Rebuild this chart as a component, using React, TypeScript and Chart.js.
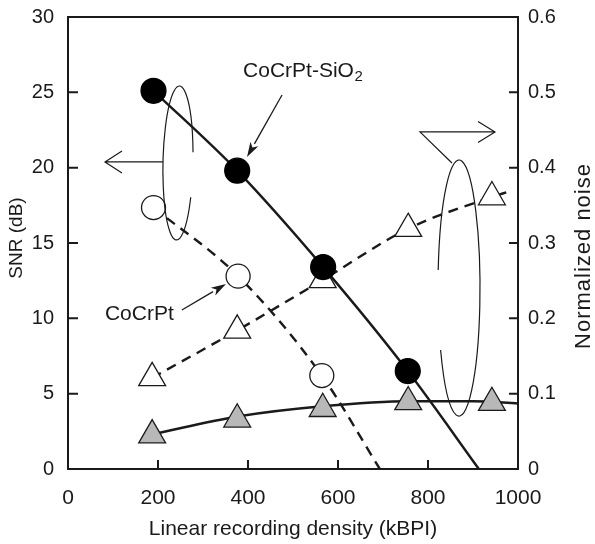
import React, { useEffect, useRef } from "react";
import { Chart, registerables } from "chart.js";
Chart.register(...registerables);

// ---- Data ----
const xTickValues = [0, 200, 400, 600, 800, 1000];
const snrTickValues = [0, 5, 10, 15, 20, 25, 30];
const noiseTickValues = [0, 0.1, 0.2, 0.3, 0.4, 0.5, 0.6];

// CoCrPt-SiO2 SNR (filled circles)
const sio2Density = [190, 376, 567, 755];
const sio2Snr = [25.1, 19.8, 13.4, 6.5];
const sio2SnrFitDensity = [190, 376, 567, 755, 913];
const sio2SnrFit = [25.1, 19.8, 13.4, 6.5, 0];

// CoCrPt SNR (open circles)
const cocrptDensity = [190, 378, 564];
const cocrptSnr = [17.35, 12.8, 6.2];
const cocrptSnrFitDensity = [190, 378, 564, 693];
const cocrptSnrFit = [17.35, 12.8, 6.2, 0];

// Normalized noise (triangles)
const noiseDensity = [187, 376, 566, 756, 942];
const cocrptNoise = [0.121, 0.184, 0.251, 0.319, 0.361];
const cocrptNoiseFitDensity = [187, 376, 566, 756, 942, 978];
const cocrptNoiseFit = [0.121, 0.184, 0.251, 0.319, 0.361, 0.368];
const sio2Noise = [0.045, 0.066, 0.08, 0.089, 0.088];
const sio2NoiseFitDensity = [187, 380, 560, 760, 900, 1000];
const sio2NoiseFit = [0.046, 0.07, 0.083, 0.09, 0.09, 0.087];

// ---- Annotations (data coordinates, x / left-axis y) ----
const sio2LabelPos = { x: 389, y: 26.0 };
const sio2Arrow = { x1: 475.6, y1: 24.82, x2: 397.8, y2: 20.71 };
const cocrptLabelPos = { x: 82, y: 9.89 };
const cocrptArrow = { x1: 253, y1: 10.55, x2: 351, y2: 12.28 };
const leftEllipse = { x: 244.4, y: 20.31, rx: 33.3, ry: 5.11 };
const leftPointer = { x1: 211.1, x2: 82.2, y: 20.38 };
const rightEllipse = { x: 868.9, y: 12.01, rx: 46.7, ry: 8.5 };
const rightPointer = { x0: 853.3, y0: 20.31, x1: 782.2, x2: 948.9, y: 22.37 };

const FONT = "'Liberation Sans', Arial, Helvetica, sans-serif";
const INK = "#1a1a1a";

const pts = (xs: number[], ys: number[]) => xs.map((x, i) => ({ x, y: ys[i] }));

const decorPlugin = {
  id: "decor",
  afterDraw(chart: any) {
    const ctx = chart.ctx as CanvasRenderingContext2D;
    const { left, right, top, bottom } = chart.chartArea;
    const sx = chart.scales.x;
    const sy = chart.scales.y;
    const sy1 = chart.scales.y1;
    const P = (x: number, y: number) => [sx.getPixelForValue(x), sy.getPixelForValue(y)];
    ctx.save();
    ctx.strokeStyle = INK;
    ctx.fillStyle = INK;

    // frame
    ctx.lineWidth = 2;
    ctx.strokeRect(left, top, right - left, bottom - top);

    // inward ticks
    ctx.beginPath();
    xTickValues.slice(1, -1).forEach((v) => {
      const p = sx.getPixelForValue(v);
      ctx.moveTo(p, bottom);
      ctx.lineTo(p, bottom - 9);
    });
    snrTickValues.slice(1, -1).forEach((v) => {
      const p = sy.getPixelForValue(v);
      ctx.moveTo(left, p);
      ctx.lineTo(left + 10, p);
    });
    noiseTickValues.slice(1, -1).forEach((v) => {
      const p = sy1.getPixelForValue(v);
      ctx.moveTo(right, p);
      ctx.lineTo(right - 9, p);
    });
    ctx.stroke();

    // labels
    ctx.font = `21px ${FONT}`;
    ctx.textBaseline = "alphabetic";
    ctx.textAlign = "left";
    let [lx, ly] = P(sio2LabelPos.x, sio2LabelPos.y);
    ctx.fillText("CoCrPt-SiO", lx, ly);
    const w = ctx.measureText("CoCrPt-SiO").width;
    ctx.font = `15px ${FONT}`;
    ctx.fillText("2", lx + w + 0.5, ly + 4);
    ctx.font = `21px ${FONT}`;
    [lx, ly] = P(cocrptLabelPos.x, cocrptLabelPos.y);
    ctx.fillText("CoCrPt", lx, ly);

    // filled-head arrows
    const arrow = (a: { x1: number; y1: number; x2: number; y2: number }) => {
      const [x1, y1] = P(a.x1, a.y1);
      const [x2, y2] = P(a.x2, a.y2);
      const ang = Math.atan2(y2 - y1, x2 - x1);
      const len = 15, hw = 4.5;
      const bx = x2 - Math.cos(ang) * len;
      const by = y2 - Math.sin(ang) * len;
      ctx.lineWidth = 1.3;
      ctx.beginPath();
      ctx.moveTo(x1, y1);
      ctx.lineTo(bx, by);
      ctx.stroke();
      ctx.beginPath();
      ctx.moveTo(x2, y2);
      ctx.lineTo(bx + Math.sin(ang) * hw, by - Math.cos(ang) * hw);
      ctx.lineTo(x2 - Math.cos(ang) * (len - 4), y2 - Math.sin(ang) * (len - 4));
      ctx.lineTo(bx - Math.sin(ang) * hw, by + Math.cos(ang) * hw);
      ctx.closePath();
      ctx.fill();
    };
    arrow(sio2Arrow);
    arrow(cocrptArrow);

    ctx.lineWidth = 1.2;
    // left ellipse with gap on right side
    {
      const [cx, cy] = P(leftEllipse.x, leftEllipse.y);
      const rx = sx.getPixelForValue(leftEllipse.x + leftEllipse.rx) - cx;
      const ry = cy - sy.getPixelForValue(leftEllipse.y + leftEllipse.ry);
      ctx.beginPath();
      ctx.ellipse(cx, cy, rx, ry, 0.02, 0.457, Math.PI * 2 - 0.143);
      ctx.stroke();
      const [ax1, ay] = P(leftPointer.x1, leftPointer.y);
      const [ax2] = P(leftPointer.x2, leftPointer.y);
      ctx.beginPath();
      ctx.moveTo(ax1, ay);
      ctx.lineTo(ax2, ay);
      ctx.moveTo(ax2 + 17, ay - 11);
      ctx.lineTo(ax2, ay);
      ctx.lineTo(ax2 + 17, ay + 11);
      ctx.stroke();
    }
    // right ellipse with gap on left side
    {
      const [cx, cy] = P(rightEllipse.x, rightEllipse.y);
      const rx = sx.getPixelForValue(rightEllipse.x + rightEllipse.rx) - cx;
      const ry = cy - sy.getPixelForValue(rightEllipse.y + rightEllipse.ry);
      ctx.beginPath();
      ctx.ellipse(cx, cy, rx, ry, 0, Math.PI + 0.141, Math.PI * 3 - 0.505);
      ctx.stroke();
      const [p0x, p0y] = P(rightPointer.x0, rightPointer.y0);
      const [p1x, py] = P(rightPointer.x1, rightPointer.y);
      const [p2x] = P(rightPointer.x2, rightPointer.y);
      ctx.beginPath();
      ctx.moveTo(p0x, p0y);
      ctx.lineTo(p1x, py);
      ctx.lineTo(p2x, py);
      ctx.moveTo(p2x - 17, py - 10.5);
      ctx.lineTo(p2x, py);
      ctx.lineTo(p2x - 17, py + 10.5);
      ctx.stroke();
    }

    // axis titles that read bottom-to-top
    ctx.save();
    ctx.font = `19px ${FONT}`;
    ctx.textAlign = "center";
    ctx.textBaseline = "middle";
    ctx.translate(17, (top + bottom) / 2 - 5);
    ctx.rotate(-Math.PI / 2);
    ctx.fillText("SNR (dB)", 0, 0);
    ctx.restore();

    ctx.save();
    ctx.font = `22px ${FONT}`;
    (ctx as any).letterSpacing = "1px";
    ctx.textAlign = "center";
    ctx.textBaseline = "middle";
    ctx.translate(584, (top + bottom) / 2 + 13);
    ctx.rotate(-Math.PI / 2);
    ctx.fillText("Normalized noise", 0, 0);
    ctx.restore();

    ctx.restore();
  },
};

export default function App() {
  const ref = useRef<HTMLCanvasElement | null>(null);
  useEffect(() => {
    if (!ref.current) return;
    const lineBase = {
      showLine: true,
      pointRadius: 0,
      pointHoverRadius: 0,
      borderColor: INK,
      borderWidth: 2.4,
      cubicInterpolationMode: "monotone" as const,
      fill: false,
    };
    const chart = new Chart(ref.current, {
      type: "scatter",
      data: {
        datasets: [
          {
            label: "CoCrPt-SiO2 SNR",
            data: pts(sio2Density, sio2Snr),
            yAxisID: "y",
            pointStyle: "circle",
            pointRadius: 12.5,
            backgroundColor: "#000",
            borderColor: "#000",
            borderWidth: 1.2,
          },
          {
            label: "CoCrPt SNR",
            data: pts(cocrptDensity, cocrptSnr),
            yAxisID: "y",
            pointStyle: "circle",
            pointRadius: 12,
            backgroundColor: "#fff",
            borderColor: INK,
            borderWidth: 1.3,
          },
          {
            label: "CoCrPt noise",
            data: pts(noiseDensity, cocrptNoise),
            yAxisID: "y1",
            pointStyle: "triangle",
            pointRadius: 15.5,
            backgroundColor: "#fff",
            borderColor: INK,
            borderWidth: 1.3,
          },
          {
            label: "CoCrPt-SiO2 noise",
            data: pts(noiseDensity, sio2Noise),
            yAxisID: "y1",
            pointStyle: "triangle",
            pointRadius: 15.5,
            backgroundColor: "#b8b8b8",
            borderColor: INK,
            borderWidth: 1.3,
          },
          { ...lineBase, label: "fit1", data: pts(sio2SnrFitDensity, sio2SnrFit), yAxisID: "y" },
          { ...lineBase, label: "fit2", data: pts(cocrptSnrFitDensity, cocrptSnrFit), yAxisID: "y", borderDash: [10, 7] },
          { ...lineBase, label: "fit3", data: pts(cocrptNoiseFitDensity, cocrptNoiseFit), yAxisID: "y1", borderDash: [10, 7] },
          { ...lineBase, label: "fit4", data: pts(sio2NoiseFitDensity, sio2NoiseFit), yAxisID: "y1" },
        ],
      },
      options: {
        animation: false,
        responsive: true,
        maintainAspectRatio: false,
        layout: { padding: { top: 17, left: 0, right: 0, bottom: 0 } },
        plugins: { legend: { display: false }, tooltip: { enabled: false } },
        events: [],
        scales: {
          x: {
            type: "linear",
            min: 0,
            max: 1000,
            afterBuildTicks: (s: any) => { s.ticks = xTickValues.map((v) => ({ value: v })); },
            afterFit: (s: any) => { s.height = 75; s.paddingLeft = 0; s.paddingRight = 0; },
            grid: { display: false, drawTicks: false },
            border: { display: false },
            ticks: {
              padding: 17,
              color: INK,
              font: { family: FONT, size: 21 },
              maxRotation: 0,
              callback: (v: any) => String(v),
            },
            title: {
              display: true,
              text: "Linear recording density (kBPI)",
              color: INK,
              font: { family: FONT, size: 21 },
              padding: { top: 0, bottom: 2 },
            },
          },
          y: {
            type: "linear",
            position: "left",
            min: 0,
            max: 30,
            afterBuildTicks: (s: any) => { s.ticks = snrTickValues.map((v) => ({ value: v })); },
            afterFit: (s: any) => { s.width = 68; s.paddingTop = 0; s.paddingBottom = 0; },
            grid: { display: false, drawTicks: false },
            border: { display: false },
            ticks: { padding: 14, color: INK, font: { family: FONT, size: 20 } },
          },
          y1: {
            type: "linear",
            position: "right",
            min: 0,
            max: 0.6,
            afterBuildTicks: (s: any) => { s.ticks = noiseTickValues.map((v) => ({ value: v })); },
            afterFit: (s: any) => { s.width = 77; s.paddingTop = 0; s.paddingBottom = 0; },
            grid: { display: false, drawTicks: false },
            border: { display: false },
            ticks: {
              padding: 10,
              color: INK,
              font: { family: FONT, size: 20 },
              callback: (v: any) => (v === 0 ? "0" : Number(v).toFixed(1)),
            },
          },
        },
      },
      plugins: [decorPlugin],
    });
    return () => chart.destroy();
  }, []);
  return (
    <div style={{ position: "fixed", left: 0, top: 0, width: 595, height: 544, background: "#fff" }}>
      <canvas ref={ref} />
    </div>
  );
}
